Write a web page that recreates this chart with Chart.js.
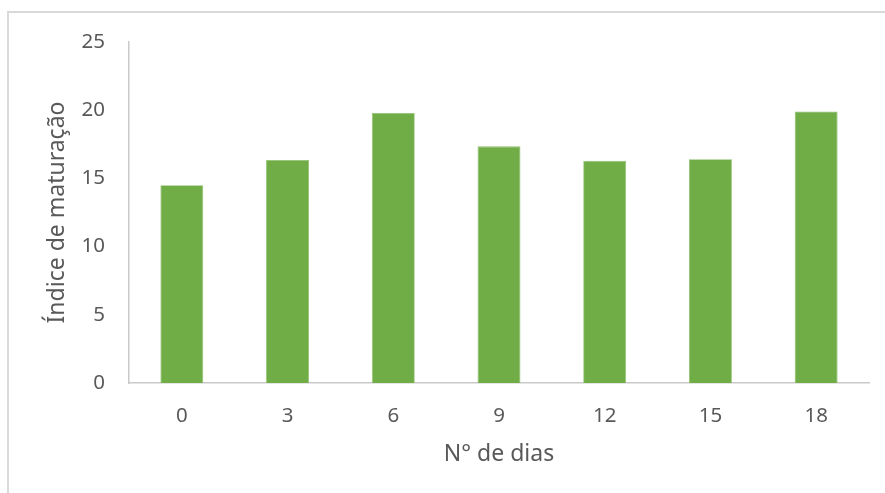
<!DOCTYPE html>
<html>
<head>
<meta charset="utf-8">
<script src="https://cdn.jsdelivr.net/npm/chart.js@4"></script>
<style>
  html, body { margin: 0; padding: 0; background: #ffffff; }
  #wrap { width: 885px; height: 493px; }
</style>
</head>
<body>
<div id="wrap"><canvas id="c" width="885" height="493"></canvas></div>
<script>
// Days of storage and maturation index per day
const dias = ['0', '3', '6', '9', '12', '15', '18'];
const indiceMaturacao = [14.5, 16.35, 19.8, 17.35, 16.3, 16.4, 19.9];
const yTicks = [0, 5, 10, 15, 20, 25];

const textColor = '#595959';
const axisColor = '#c9c9c9';
const fontFamily = '"Noto Sans", "Open Sans", sans-serif';

// Light frame around the chart
const framePlugin = {
  id: 'frame',
  beforeDraw(chart) {
    const ctx = chart.ctx;
    ctx.save();
    ctx.fillStyle = '#ffffff';
    ctx.fillRect(0, 0, chart.width, chart.height);
    ctx.strokeStyle = '#d9d9d9';
    ctx.lineWidth = 2;
    ctx.strokeRect(8, 12, chart.width + 20, chart.height + 20);
    ctx.restore();
  }
};

new Chart(document.getElementById('c'), {
  type: 'bar',
  data: {
    labels: dias,
    datasets: [{
      data: indiceMaturacao,
      backgroundColor: '#70ad47',
      borderColor: '#8fc06c',
      borderWidth: 0.8,
      barPercentage: 0.406,
      categoryPercentage: 1.0
    }]
  },
  options: {
    responsive: false,
    animation: false,
    devicePixelRatio: 1,
    layout: { padding: { left: 0, right: 16, top: 42, bottom: 0 } },
    plugins: {
      legend: { display: false },
      tooltip: { enabled: false }
    },
    scales: {
      x: {
        grid: { display: false },
        border: { display: true, color: axisColor, width: 1.5 },
        ticks: {
          color: textColor,
          padding: 13,
          font: { family: fontFamily, size: 20.5 }
        },
        title: {
          display: true,
          text: 'N° de dias',
          color: textColor,
          font: { family: fontFamily, size: 23 },
          padding: { top: 0, bottom: 25 }
        },
        afterFit(scale) { scale.height = 110; }
      },
      y: {
        min: 0,
        max: 25,
        grid: { display: false },
        border: { display: true, color: axisColor, width: 1.5 },
        afterBuildTicks(scale) {
          scale.ticks = yTicks.map(v => ({ value: v }));
        },
        ticks: {
          color: textColor,
          padding: 16,
          font: { family: fontFamily, size: 20.5 }
        },
        title: {
          display: true,
          text: 'Índice de maturação',
          color: textColor,
          font: { family: fontFamily, size: 23 },
          padding: { top: 44, bottom: 0 }
        },
        afterFit(scale) { scale.width = 129; }
      }
    }
  },
  plugins: [framePlugin]
});
</script>
</body>
</html>
